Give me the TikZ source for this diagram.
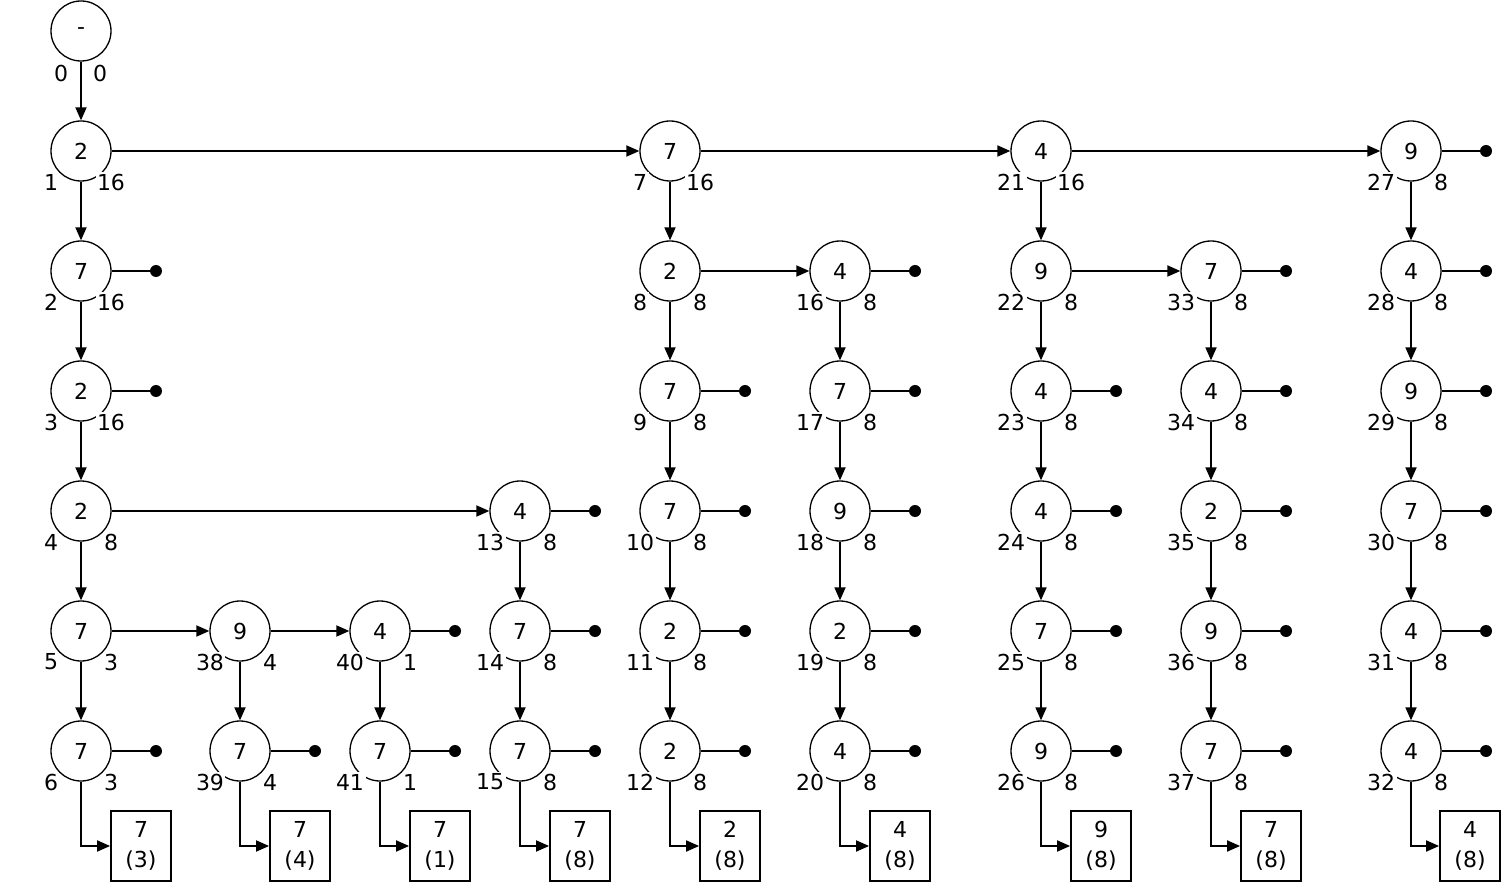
\documentclass[tikz,border=0pt]{standalone}
\usepackage{fontspec}
\setmainfont{DejaVu Sans}
\usetikzlibrary{arrows.meta}
\tikzset{
  cn/.style={circle, draw, minimum size=60pt, inner sep=0pt, line width=1.3pt},
  lab/.style={fill=white, inner sep=1.5pt},
  rlab/.style={inner sep=1pt},
  arr/.style={-{Triangle[length=13pt,width=11pt]}, line width=1.8pt},
  ln/.style={line width=1.8pt},
  enddot/.style={circle, fill=black, inner sep=0pt, minimum size=12pt},
  bx/.style={draw, minimum width=60pt, minimum height=70pt, inner sep=0pt, line width=1.8pt, align=center, font=\fontsize{22}{30}\selectfont},
}
\newcommand\cnd[6]{%
  \node[cn] (#1) at (#2,#3) {#4};
  \node[lab] (#1l) at (#2-30,#3+31) {#5};
  \node[lab] (#1r) at (#2+30,#3+31) {#6};
}
\newcommand\dnd[3]{% name, x, y : end dot right of node
  \node[enddot] (#1d) at (#2+75,#3) {};
  \draw[ln] (#1) -- (#1d);
}
\newcommand\bnd[4]{% name, x, text, count
  \node[bx] (#1b) at (#2+60,846) {#3\\(#4)};
  \draw[arr] (#16.south) |- (#1b.west);
}
\begin{document}
\begin{tikzpicture}[x=1pt, y=-1pt, font=\fontsize{22}{26}\selectfont]
\useasboundingbox (0,0) rectangle (1502,882);
% root
\node[cn] (a0) at (81,31) {-};
\node[rlab] (a0l) at (61,73) {0};
\node[rlab] (a0r) at (100,73) {0};
% column A
\cnd{a1}{81}{151}{2}{1}{16}
\cnd{a2}{81}{271}{7}{2}{16}
\cnd{a3}{81}{391}{2}{3}{16}
\cnd{a4}{81}{511}{2}{4}{8}
\cnd{a5}{81}{631}{7}{5}{3}
\cnd{a6}{81}{751}{7}{6}{3}
% column B
\cnd{b5}{240}{631}{9}{38}{4}
\cnd{b6}{240}{751}{7}{39}{4}
% column C
\cnd{c5}{380}{631}{4}{40}{1}
\cnd{c6}{380}{751}{7}{41}{1}
% column D
\cnd{d4}{520}{511}{4}{13}{8}
\cnd{d5}{520}{631}{7}{14}{8}
\cnd{d6}{520}{751}{7}{15}{8}
% column E
\cnd{e1}{670}{151}{7}{7}{16}
\cnd{e2}{670}{271}{2}{8}{8}
\cnd{e3}{670}{391}{7}{9}{8}
\cnd{e4}{670}{511}{7}{10}{8}
\cnd{e5}{670}{631}{2}{11}{8}
\cnd{e6}{670}{751}{2}{12}{8}
% column F
\cnd{f2}{840}{271}{4}{16}{8}
\cnd{f3}{840}{391}{7}{17}{8}
\cnd{f4}{840}{511}{9}{18}{8}
\cnd{f5}{840}{631}{2}{19}{8}
\cnd{f6}{840}{751}{4}{20}{8}
% column G
\cnd{g1}{1041}{151}{4}{21}{16}
\cnd{g2}{1041}{271}{9}{22}{8}
\cnd{g3}{1041}{391}{4}{23}{8}
\cnd{g4}{1041}{511}{4}{24}{8}
\cnd{g5}{1041}{631}{7}{25}{8}
\cnd{g6}{1041}{751}{9}{26}{8}
% column H
\cnd{h2}{1211}{271}{7}{33}{8}
\cnd{h3}{1211}{391}{4}{34}{8}
\cnd{h4}{1211}{511}{2}{35}{8}
\cnd{h5}{1211}{631}{9}{36}{8}
\cnd{h6}{1211}{751}{7}{37}{8}
% column I
\cnd{i1}{1411}{151}{9}{27}{8}
\cnd{i2}{1411}{271}{4}{28}{8}
\cnd{i3}{1411}{391}{9}{29}{8}
\cnd{i4}{1411}{511}{7}{30}{8}
\cnd{i5}{1411}{631}{4}{31}{8}
\cnd{i6}{1411}{751}{4}{32}{8}
% vertical arrows
\draw[arr] (a0) -- (a1);
\foreach \c/\l in {a/{1/2,2/3,3/4,4/5,5/6}, b/{5/6}, c/{5/6}, d/{4/5,5/6},
  e/{1/2,2/3,3/4,4/5,5/6}, f/{2/3,3/4,4/5,5/6}, g/{1/2,2/3,3/4,4/5,5/6},
  h/{2/3,3/4,4/5,5/6}, i/{1/2,2/3,3/4,4/5,5/6}}{
  \foreach \p/\q in \l { \draw[arr] (\c\p) -- (\c\q); }
}
% horizontal arrows
\draw[arr] (a1) -- (e1);
\draw[arr] (e1) -- (g1);
\draw[arr] (g1) -- (i1);
\draw[arr] (a4) -- (d4);
\draw[arr] (a5) -- (b5);
\draw[arr] (b5) -- (c5);
\draw[arr] (e2) -- (f2);
\draw[arr] (g2) -- (h2);
% end dots
\dnd{a2}{81}{271}
\dnd{a3}{81}{391}
\dnd{a6}{81}{751}
\dnd{b6}{240}{751}
\dnd{c5}{380}{631}
\dnd{c6}{380}{751}
\dnd{d4}{520}{511}
\dnd{d5}{520}{631}
\dnd{d6}{520}{751}
\dnd{e3}{670}{391}
\dnd{e4}{670}{511}
\dnd{e5}{670}{631}
\dnd{e6}{670}{751}
\dnd{f2}{840}{271}
\dnd{f3}{840}{391}
\dnd{f4}{840}{511}
\dnd{f5}{840}{631}
\dnd{f6}{840}{751}
\dnd{g3}{1041}{391}
\dnd{g4}{1041}{511}
\dnd{g5}{1041}{631}
\dnd{g6}{1041}{751}
\dnd{h2}{1211}{271}
\dnd{h3}{1211}{391}
\dnd{h4}{1211}{511}
\dnd{h5}{1211}{631}
\dnd{h6}{1211}{751}
\dnd{i1}{1411}{151}
\dnd{i2}{1411}{271}
\dnd{i3}{1411}{391}
\dnd{i4}{1411}{511}
\dnd{i5}{1411}{631}
\dnd{i6}{1411}{751}
% result boxes
\bnd{a}{81}{7}{3}
\bnd{b}{240}{7}{4}
\bnd{c}{380}{7}{1}
\bnd{d}{520}{7}{8}
\bnd{e}{670}{2}{8}
\bnd{f}{840}{4}{8}
\bnd{g}{1041}{9}{8}
\bnd{h}{1211}{7}{8}
\bnd{i}{1410}{4}{8}
\end{tikzpicture}
\end{document}
